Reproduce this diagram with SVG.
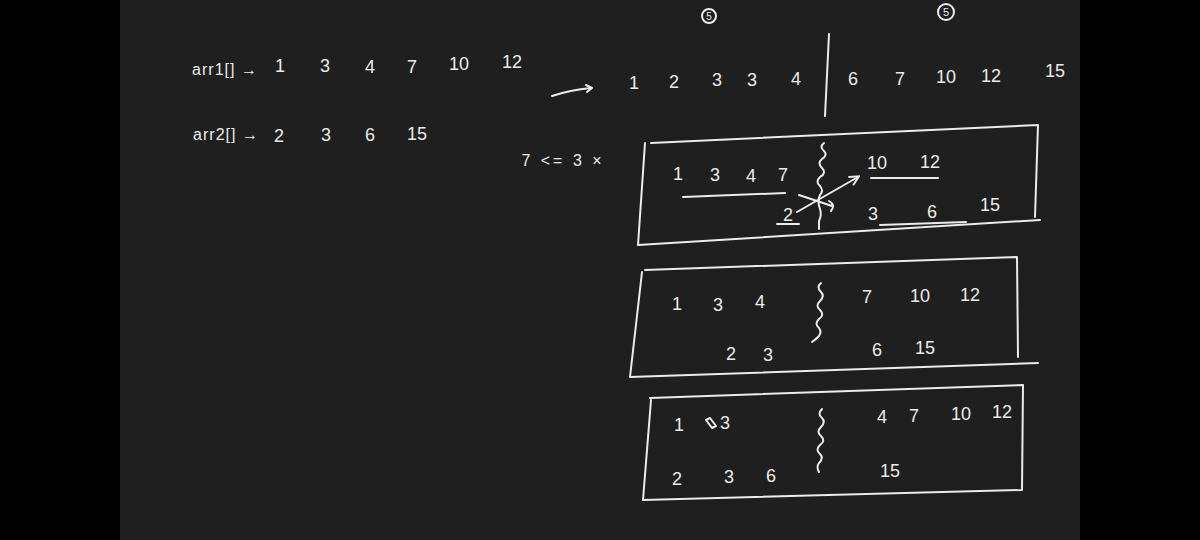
<svg xmlns="http://www.w3.org/2000/svg" width="1200" height="540" viewBox="0 0 1200 540">
<defs>
<style>
.t{font-family:"Liberation Sans","DejaVu Sans",sans-serif;font-size:18px;fill:#ececec;text-anchor:middle;dominant-baseline:central}
.s{font-size:16px;letter-spacing:1px}
.l{fill:none;stroke:#ececec;stroke-width:2;stroke-linecap:round;stroke-linejoin:round}
</style>
<marker id="ah" viewBox="0 0 10 10" refX="8" refY="5" markerWidth="6" markerHeight="6" orient="auto">
<path d="M1,1 L9,5 L1,9" fill="none" stroke="#ececec" stroke-width="1.6"/>
</marker>
</defs>
<rect width="1200" height="540" fill="#000"/>
<rect x="120" y="0" width="960" height="540" fill="#1f1f1f"/>

<g id="inputs">
<text class="t s" x="225" y="69">arr1[] →</text>
<text class="t" x="280" y="66">1</text>
<text class="t" x="325" y="66">3</text>
<text class="t" x="370" y="67">4</text>
<text class="t" x="412" y="67">7</text>
<text class="t" x="459" y="64">10</text>
<text class="t" x="512" y="62">12</text>
<text class="t s" x="226" y="134">arr2[] →</text>
<text class="t" x="279" y="136">2</text>
<text class="t" x="326" y="135">3</text>
<text class="t" x="370" y="135">6</text>
<text class="t" x="417" y="134">15</text>
<text class="t s" x="563" y="160" style="letter-spacing:3px">7 &lt;= 3  ×</text>
</g>

<g id="merged">
<text class="t" x="634" y="83">1</text>
<text class="t" x="674" y="82">2</text>
<text class="t" x="717" y="80">3</text>
<text class="t" x="752" y="80">3</text>
<text class="t" x="796" y="79">4</text>
<text class="t" x="853" y="79">6</text>
<text class="t" x="900" y="79">7</text>
<text class="t" x="946" y="77">10</text>
<text class="t" x="991" y="76">12</text>
<text class="t" x="1055" y="71">15</text>
<circle class="l" cx="709" cy="16" r="7" stroke-width="1.5"/>
<text class="t" x="709" y="16" style="font-size:10px">5</text>
<circle class="l" cx="946" cy="12" r="8" stroke-width="1.5"/>
<text class="t" x="946" y="12" style="font-size:11px">5</text>
</g>

<g id="box1">
<path class="l" d="M651,143 L1038,125 L1035,217 M645,143 L638,245 L1040,220"/>
<text class="t" x="678" y="174">1</text>
<text class="t" x="715" y="175">3</text>
<text class="t" x="751" y="176">4</text>
<text class="t" x="783" y="175">7</text>
<text class="t" x="788" y="215">2</text>
<text class="t" x="877" y="163">10</text>
<text class="t" x="930" y="162">12</text>
<text class="t" x="873" y="214">3</text>
<text class="t" x="932" y="212">6</text>
<text class="t" x="990" y="205">15</text>
</g>

<g id="box2">
<path class="l" d="M645,270 L1017,257 L1018,357 M642,272 L630,377 L1038,363"/>
<text class="t" x="677" y="304">1</text>
<text class="t" x="718" y="305">3</text>
<text class="t" x="760" y="302">4</text>
<text class="t" x="768" y="355">3</text>
<text class="t" x="731" y="354">2</text>
<text class="t" x="867" y="297">7</text>
<text class="t" x="920" y="296">10</text>
<text class="t" x="970" y="295">12</text>
<text class="t" x="877" y="350">6</text>
<text class="t" x="925" y="348">15</text>
</g>

<g id="box3">
<path class="l" d="M650,398 L1023,385 L1022,490 M651,400 L643,500 L1022,490"/>
<text class="t" x="679" y="425">1</text>
<text class="t" x="725" y="423">3</text>
<path class="l" d="M706,420 l6,8 l4,-2 l-6,-8 z" stroke-width="1.2"/>
<text class="t" x="882" y="417">4</text>
<text class="t" x="914" y="416">7</text>
<text class="t" x="961" y="414">10</text>
<text class="t" x="1002" y="412">12</text>
<text class="t" x="677" y="479">2</text>
<text class="t" x="729" y="477">3</text>
<text class="t" x="771" y="476">6</text>
<text class="t" x="890" y="471">15</text>
</g>

<g id="connectors">
<path class="l" d="M552,96 Q570,90 591,88 M586,85 L592,88 L587,92" stroke-width="1.6"/>
<path class="l" d="M829,34 L825,116" stroke-width="1.8"/>
<path class="l" d="M683,197 L785,193 M871,178 L938,178 M777,224 L799,224 M880,225 L966,222" stroke-width="1.6"/>
<path class="l" d="M824,143 q-5,4 0,8 q4,4 -2,8 q-5,4 0,9 q5,5 -2,9 q-5,5 0,9 q4,5 0,9 q-3,6 0,14 q2,6 -1,12 l0,8" stroke-width="1.6"/>
<path class="l" d="M797,212 L858,177" stroke-width="1.6" marker-end="url(#ah)"/>
<path class="l" d="M799,195 L832,206 M829,201 Q836,205 831,211" stroke-width="1.6"/>
<path class="l" d="M821,283 q-5,4 0,9 q4,4 -1,9 q-5,5 0,9 q5,5 -1,9 q-5,5 0,9 q3,4 0,8 q-4,4 -7,6" stroke-width="1.6"/>
<path class="l" d="M822,409 q-5,5 0,9 q4,4 -1,9 q-5,5 0,9 q5,5 -1,9 q-5,5 0,9 q4,4 -1,9 q-3,4 0,9" stroke-width="1.6"/>
</g>
</svg>
